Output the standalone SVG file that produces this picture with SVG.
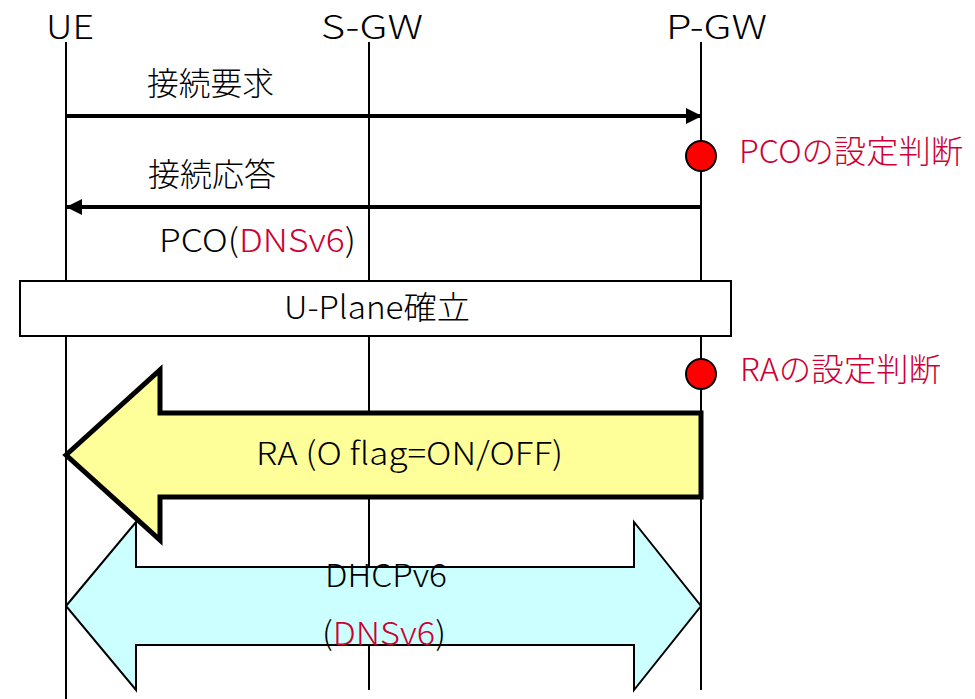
<svg xmlns="http://www.w3.org/2000/svg" width="975" height="699" viewBox="0 0 975 699">
<style>
text{font-family:"Noto Sans CJK JP","Noto Sans",sans-serif;fill:#000;font-weight:300}
.t{font-size:33px}
.m{font-size:32px}
.r{fill:#CC0033}
.life{stroke:#000;stroke-width:2;fill:none}
.msg{stroke:#000;stroke-width:4;fill:none}
.dot{fill:#FF0000;stroke:#000;stroke-width:2}
</style>
<defs>
<marker id="ah" markerUnits="userSpaceOnUse" markerWidth="16" markerHeight="16" viewBox="0 0 16 16" refX="15" refY="8" orient="auto">
<path d="M0,0 L16,8 L0,16 Z" fill="#000"/>
</marker>
</defs>
<rect width="975" height="699" fill="#fff"/>
<g id="lifelines">
<line class="life" x1="66" y1="42" x2="66" y2="699"/>
<line class="life" x1="369" y1="42" x2="369" y2="690"/>
<line class="life" x1="701" y1="42" x2="701" y2="690"/>
</g>
<g id="UE"><text class="t" x="46" y="39" textLength="48" lengthAdjust="spacingAndGlyphs">UE</text></g>
<g id="SGW"><text class="t" x="321" y="39" textLength="102" lengthAdjust="spacingAndGlyphs">S-GW</text></g>
<g id="PGW"><text class="t" x="666" y="39" textLength="101" lengthAdjust="spacingAndGlyphs">P-GW</text></g>
<g id="connectors">
<line class="msg" x1="66" y1="116" x2="701" y2="116" marker-end="url(#ah)"/>
<line class="msg" x1="701" y1="207" x2="67" y2="207" marker-end="url(#ah)"/>
</g>
<g id="label-req"><text class="m" x="147" y="95" textLength="127" lengthAdjust="spacingAndGlyphs">接続要求</text></g>
<g id="label-res"><text class="m" x="148" y="186" textLength="128" lengthAdjust="spacingAndGlyphs">接続応答</text></g>
<g id="label-pco"><text class="m" x="159" y="252" textLength="197" lengthAdjust="spacingAndGlyphs">PCO(<tspan class="r">DNSv6</tspan>)</text></g>
<g id="pco-decision">
<circle class="dot" cx="701" cy="156" r="15"/>
<text class="m r" x="739" y="163" textLength="224" lengthAdjust="spacingAndGlyphs">PCOの設定判断</text>
</g>
<g id="uplane">
<rect x="20" y="281" width="711" height="55" fill="#fff" stroke="#000" stroke-width="2"/>
<text class="m" x="284" y="319" textLength="186" lengthAdjust="spacingAndGlyphs">U-Plane確立</text>
</g>
<g id="ra-decision">
<circle class="dot" cx="701" cy="374" r="15"/>
<text class="m r" x="740" y="381" textLength="201" lengthAdjust="spacingAndGlyphs">RAの設定判断</text>
</g>
<g id="ra">
<polygon points="66,455 160,370 160,413 701,413 701,497 160,497 160,540" fill="#FFFF99" stroke="#000" stroke-width="5" stroke-linejoin="miter"/>
<text class="m" x="256" y="465" textLength="307" lengthAdjust="spacingAndGlyphs">RA (O flag=ON/OFF)</text>
</g>
<g id="dhcp">
<polygon points="66,606 136,522 136,567 634,567 634,522 701,606 634,690 634,645 136,645 136,690" fill="#CCFFFF" stroke="#000" stroke-width="2"/>
<text class="m" x="325" y="587" textLength="122" lengthAdjust="spacingAndGlyphs">DHCPv6</text>
<text class="m" x="322" y="645" textLength="124" lengthAdjust="spacingAndGlyphs">(<tspan class="r">DNSv6</tspan>)</text>
</g>
</svg>
